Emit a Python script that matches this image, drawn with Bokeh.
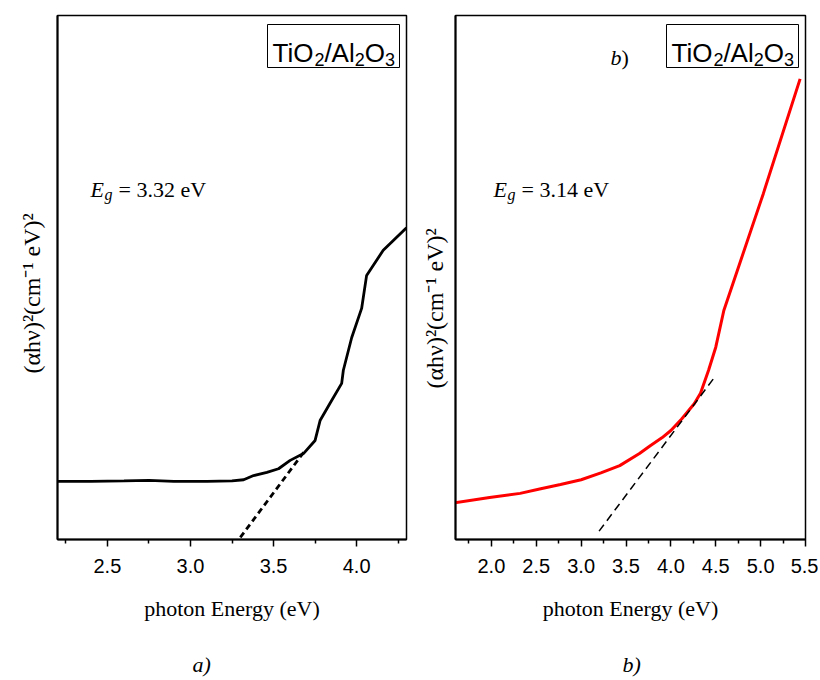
from bokeh.plotting import figure
from bokeh.layouts import row
from bokeh.models import Label, BoxAnnotation, FixedTicker, Range1d, PrintfTickFormatter, Title
from bokeh.embed import file_html
from bokeh.resources import INLINE

# ---------------- data ----------------
energy_a = [2.20, 2.40, 2.60, 2.75, 2.90, 3.10, 3.25, 3.32, 3.38, 3.46, 3.53, 3.60,
            3.68, 3.75, 3.78, 3.84, 3.91, 3.92, 3.97, 4.03, 4.06, 4.16, 4.30]
ahv_a = [11.1, 11.1, 11.2, 11.3, 11.1, 11.1, 11.2, 11.4, 12.2, 12.8, 13.5, 15.1,
         16.4, 18.9, 22.7, 26.0, 29.8, 32.3, 38.5, 44.1, 50.4, 55.2, 59.5]
tangent_a_x = [3.30, 3.69]
tangent_a_y = [0.4, 17.0]

energy_b = [1.59, 1.98, 2.32, 2.55, 2.77, 3.00, 3.22, 3.43, 3.65, 3.77, 3.90, 4.00,
            4.12, 4.26, 4.33, 4.42, 4.50, 4.59, 5.03, 5.44]
ahv_b = [7.0, 8.0, 8.8, 9.7, 10.5, 11.4, 12.7, 14.1, 16.4, 17.9, 19.4, 20.8,
         23.0, 25.9, 27.9, 32.3, 36.7, 43.7, 66.0, 87.9]
tangent_b_x = [3.20, 4.48]
tangent_b_y = [1.6, 30.8]

xrange_a = (2.2, 4.3)
xrange_b = (1.6, 5.5)
yrange = (0, 100)
ticks_a = [2.5, 3.0, 3.5, 4.0]
minor_a = [2.25, 2.75, 3.25, 3.75, 4.25]
ticks_b = [2.0, 2.5, 3.0, 3.5, 4.0, 4.5, 5.0, 5.5]
minor_b = [1.75, 2.25, 2.75, 3.25, 3.75, 4.25, 4.75, 5.25]

eg_a = "3.32"
eg_b = "3.14"
x_title = "photon Energy (eV)"
y_title = "(\u03b1h\u03bd)\u00b2(cm\u207b\u00b9 eV)\u00b2"

SERIF = "Liberation Serif"
SANS = "Liberation Sans"

FRAME_H = 524


def txt(p, text, x, y, size, font=SERIF, style="normal"):
    p.add_layout(Label(x=x, y=y, x_units="screen", y_units="screen", text=text,
                       text_font=font, text_font_size=f"{size}px",
                       text_font_style=style, text_color="black",
                       text_align="left", text_baseline="alphabetic"))


def make_fig(xr, ticks, minor, frame_w, left, right, ystand, yoff):
    p = figure(frame_width=frame_w, frame_height=FRAME_H,
               x_range=Range1d(*xr), y_range=Range1d(*yrange),
               output_backend="svg", toolbar_location=None,
               min_border_left=left, min_border_right=right,
               min_border_top=15, min_border_bottom=139)
    p.background_fill_color = "white"
    p.border_fill_color = "white"
    p.xgrid.visible = False
    p.ygrid.visible = False
    p.outline_line_color = "black"
    p.outline_line_width = 1.5

    ax = p.xaxis[0]
    ax.ticker = FixedTicker(ticks=ticks, minor_ticks=minor)
    ax.formatter = PrintfTickFormatter(format="%.1f")
    ax.major_label_text_font = SANS
    ax.major_label_text_font_size = "20px"
    ax.major_label_text_color = "black"
    ax.major_label_standoff = 12
    ax.major_tick_out = 7
    ax.major_tick_in = 0
    ax.minor_tick_out = 4
    ax.minor_tick_in = 0
    ax.major_tick_line_width = 1.5
    ax.minor_tick_line_width = 1.5
    ax.axis_line_width = 2
    ax.axis_line_color = "black"
    ax.major_tick_line_color = "black"
    ax.minor_tick_line_color = "black"
    ax.axis_label = x_title
    ax.axis_label_text_font = SERIF
    ax.axis_label_text_font_size = "22px"
    ax.axis_label_text_font_style = "normal"
    ax.axis_label_text_color = "black"
    ax.axis_label_standoff = 20

    ay = p.yaxis[0]
    ay.ticker = FixedTicker(ticks=[], minor_ticks=[])
    ay.major_tick_line_color = None
    ay.minor_tick_line_color = None
    ay.axis_line_width = 2
    ay.axis_line_color = "black"

    p.add_layout(Title(text=y_title, text_font=SERIF, text_font_size="24px",
                       text_font_style="normal", text_color="black",
                       align="left", offset=yoff, standoff=ystand), "left")
    return p


def formula_box(p, x0):
    p.add_layout(BoxAnnotation(left=x0 - 5, right=x0 + 127, bottom=472, top=515,
                               left_units="screen", right_units="screen",
                               top_units="screen", bottom_units="screen",
                               fill_alpha=0, line_color="black", line_alpha=1,
                               line_width=1))
    pieces = [("TiO", 0, 26, 0), ("2", 41.9, 18, -7), ("/Al", 51.9, 26, 0),
              ("2", 82.2, 18, -7), ("O", 92.2, 26, 0), ("3", 112.4, 18, -7)]
    for t, dx, s, dy in pieces:
        txt(p, t, x0 + dx, 487 + dy, s, font=SANS)


def eg_label(p, x0, value):
    txt(p, "E", x0, 350, 22, style="italic")
    txt(p, "g", x0 + 14, 345, 16, style="italic")
    txt(p, f"= {value} eV", x0 + 28, 350, 22)


def panel_tag(p, letter, x0, y0):
    txt(p, letter, x0, y0, 22, style="italic")
    txt(p, ")", x0 + 11, y0, 22)


def bottom_tag(p, text, offset):
    p.add_layout(Title(text=text, text_font=SERIF, text_font_size="22px",
                       text_font_style="italic", text_color="black",
                       align="left", offset=offset, standoff=52), "below")


# ---------------- panel a ----------------
pa = make_fig(xrange_a, ticks_a, minor_a, 349, 57, 2, 25, 166)
pa.line(energy_a, ahv_a, line_color="black", line_width=2.8)
pa.line(tangent_a_x, tangent_a_y, line_color="black", line_width=2.8, line_dash="6 4")
formula_box(pa, 215)
eg_label(pa, 33, eg_a)
bottom_tag(pa, "a)", 135)

# ---------------- panel b ----------------
pb = make_fig(xrange_b, ticks_b, minor_b, 350, 47, 13, 15, 151)
pb.line(energy_b, ahv_b, line_color="#ff0000", line_width=3)
pb.line(tangent_b_x, tangent_b_y, line_color="black", line_width=1.5, line_dash="8 5")
formula_box(pb, 216)
eg_label(pb, 38, eg_b)
panel_tag(pb, "b", 155, 482)
bottom_tag(pb, "b)", 167)

layout = row(pa, pb)
open("out.html", "w").write(file_html(layout, INLINE))
